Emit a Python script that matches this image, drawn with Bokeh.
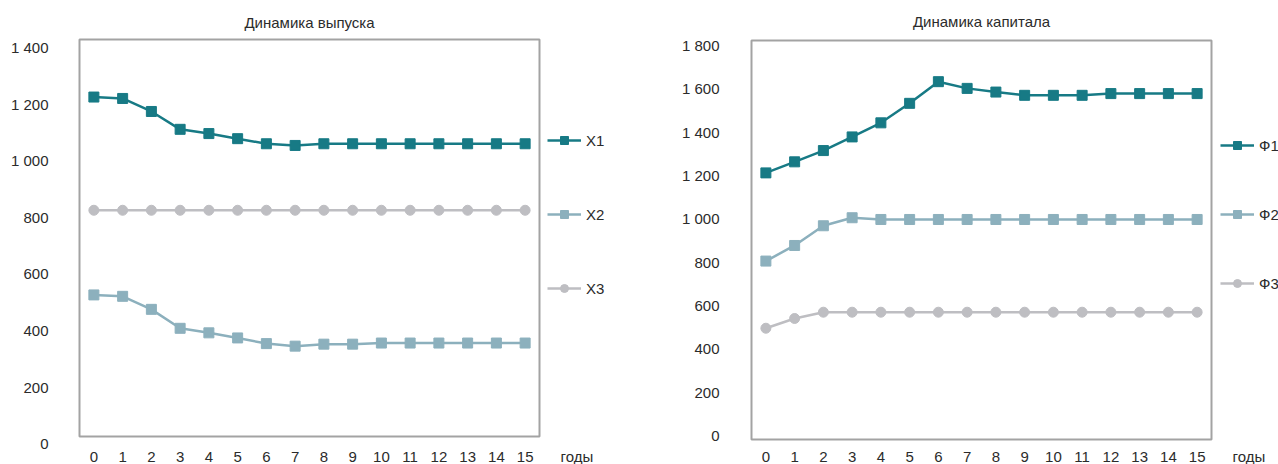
from bokeh.embed import file_html
from bokeh.layouts import row
from bokeh.models import (BoxAnnotation, CustomJSTickFormatter, FixedTicker,
                          Legend, LegendItem, Range1d)
from bokeh.plotting import figure
from bokeh.resources import INLINE

# годы расчётного периода
years = list(range(16))
year_labels = [str(y) for y in years]

# Динамика выпуска
out_names = ["X1", "X2", "X3"]
x1 = [1225, 1220, 1174, 1111, 1096, 1078, 1060, 1054, 1060, 1060, 1060, 1060, 1060, 1060, 1060, 1060]
x2 = [526, 521, 475, 408, 392, 374, 354, 345, 352, 352, 356, 356, 356, 356, 356, 356]
x3 = [825, 825, 825, 825, 825, 825, 825, 825, 825, 825, 825, 825, 825, 825, 825, 825]
out_ticks = [0, 200, 400, 600, 800, 1000, 1200, 1400]

# Динамика капитала
cap_names = ["Ф1", "Ф2", "Ф3"]
f1 = [1212, 1263, 1315, 1378, 1443, 1533, 1633, 1602, 1585, 1570, 1570, 1570, 1578, 1578, 1578, 1578]
f2 = [805, 877, 968, 1005, 997, 997, 997, 997, 997, 997, 997, 997, 997, 997, 997, 997]
f3 = [495, 540, 569, 569, 569, 569, 569, 569, 569, 569, 569, 569, 569, 569, 569, 569]
cap_ticks = [0, 200, 400, 600, 800, 1000, 1200, 1400, 1600, 1800]

FONT = "Liberation Sans"
TEXT = "#2b2b2b"
COLORS = ["#177a85", "#8cb0bd", "#bebec2"]
MARKERS = ["square", "square", "circle"]
HEIGHT = 464
STEP = 28.75          # pixels per year inside the plot box


def make_chart(title, series, names, ticks, width, box_px, y_box,
               tick_label_right, legend_px, legend_spacing,
               title_y, year_label_dy):
    """box_px = (left, top, bottom) of the grey plot box in pixels,
    y_box = value range covered by the box."""
    bl, bt, bb = box_px
    fl = bl - 2                                  # frame starts just left of the box
    k = (bb - bt) / (y_box[1] - y_box[0])        # pixels per value unit
    y_lo = y_box[0] - (HEIGHT - bb) / k
    y_hi = y_box[1] + bt / k
    x_lo = -0.5 - (bl - fl) / STEP
    x_hi = -0.5 + (width - bl) / STEP

    p = figure(width=width, height=HEIGHT,
               x_range=Range1d(x_lo, x_hi), y_range=Range1d(y_lo, y_hi),
               output_backend="svg", toolbar_location=None,
               min_border_left=fl, min_border_right=0,
               min_border_top=0, min_border_bottom=0)

    p.grid.visible = False
    p.outline_line_color = None
    p.background_fill_color = "white"
    p.border_fill_color = "white"

    # grey plot box
    p.add_layout(BoxAnnotation(left=-0.5, right=15.5,
                               bottom=y_box[0], top=y_box[1],
                               fill_alpha=0, line_color="#a3a3a3",
                               line_alpha=1, line_width=2, level="underlay"))

    p.xaxis.visible = False
    ya = p.yaxis[0]
    ya.ticker = FixedTicker(ticks=ticks)
    ya.formatter = CustomJSTickFormatter(
        code="return String(tick).replace(/\\B(?=(\\d{3})+(?!\\d))/g, ' ')")
    ya.axis_line_color = None
    ya.major_tick_line_color = None
    ya.major_tick_out = 0
    ya.major_tick_in = 0
    ya.minor_tick_line_color = None
    ya.major_label_standoff = fl - tick_label_right
    ya.major_label_text_font = FONT
    ya.major_label_text_font_size = "15px"
    ya.major_label_text_color = TEXT

    items = []
    for vals, name, color, marker in zip(series, names, COLORS, MARKERS):
        ln = p.line(years, vals, line_color=color, line_width=2.5)
        sc = p.scatter(years, vals, marker=marker, size=10,
                       fill_color=color, line_color=color)
        items.append(LegendItem(label=name, renderers=[ln, sc]))

    lx, ly = legend_px
    legend = Legend(items=items, location=(lx - fl, HEIGHT - ly),
                    margin=0, padding=0,
                    spacing=legend_spacing, glyph_width=34, glyph_height=20,
                    label_height=20, label_standoff=5,
                    label_text_font=FONT, label_text_font_size="15px",
                    label_text_color=TEXT, border_line_color=None,
                    background_fill_alpha=0)
    p.add_layout(legend)

    text_style = dict(text_font={"value": FONT}, text_font_size="15px",
                      text_color=TEXT, text_baseline="middle",
                      text_align="center")
    # chart title centred over the box
    p.text(x=[7.5], y=[y_box[1]], text=[title], y_offset=-(bt - title_y),
           **text_style)
    # year labels under the box and the axis caption
    p.text(x=years, y=[y_box[0]] * len(years), text=year_labels,
           y_offset=year_label_dy, **text_style)
    p.text(x=[16.8], y=[y_box[0]], text=["годы"], y_offset=year_label_dy,
           **text_style)
    return p


p1 = make_chart("Динамика выпуска", [x1, x2, x3], out_names, out_ticks,
                640, (79, 39, 436), (25.8, 1428.3), 48,
                (547, 298), 54, 21.5, 20)
p2 = make_chart("Динамика капитала", [f1, f2, f3], cap_names, cap_ticks,
                638, (111, 40, 439), (-18.5, 1823), 79,
                (580, 293), 49, 20.5, 17)

layout = row(p1, p2)
open("out.html", "w").write(file_html(layout, INLINE))
